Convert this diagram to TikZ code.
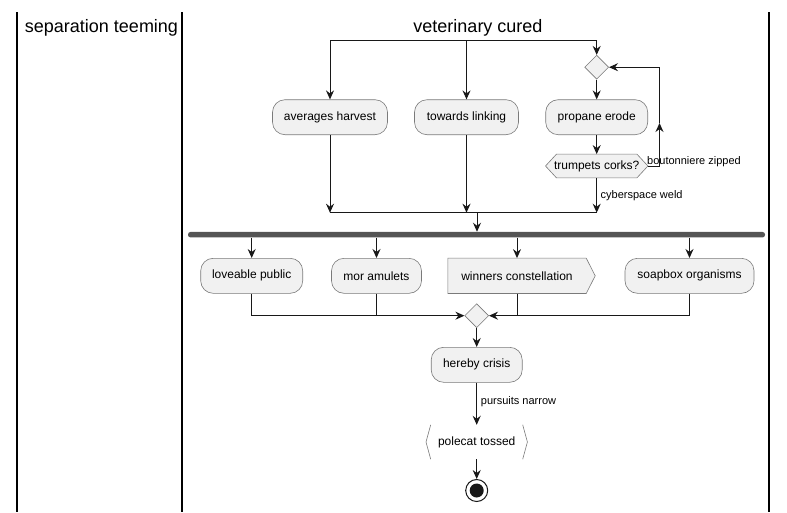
\documentclass[tikz,border=0pt]{standalone}
\usepackage{fontspec}
\setmainfont{Liberation Sans}
\usetikzlibrary{arrows.meta,backgrounds,shapes.geometric}
\definecolor{boxfill}{HTML}{F1F1F1}
\definecolor{boxline}{HTML}{7A7A7A}
\definecolor{linec}{HTML}{181818}
\definecolor{barc}{HTML}{555555}
\begin{document}
\begin{tikzpicture}[x=1pt,y=-1pt,
  every node/.style={font=\fontsize{12}{14}\selectfont},
  act/.style={draw=boxline,fill=boxfill,line width=0.6pt,rounded corners=12.5pt,minimum height=35pt,inner sep=0pt},
  txtbox/.style={inner sep=0pt,minimum height=23.4pt},
  boxshape/.style={draw=boxline,fill=boxfill,line width=0.6pt},
  lbl/.style={font=\fontsize{11}{13}\selectfont,inner sep=0pt,anchor=base west},
  arr/.style={-{Stealth[length=9pt,width=8pt,inset=3pt]},line width=1pt,draw=linec},
  conn/.style={line width=1pt,draw=linec},
  dia/.style={diamond,draw=boxline,fill=boxfill,line width=0.6pt,minimum width=24pt,minimum height=24pt,inner sep=0pt},
  lane/.style={line width=1.5pt,draw=black},
  lanetitle/.style={font=\fontsize{18}{21}\selectfont,anchor=base,inner sep=0pt}
]
\useasboundingbox (0,0) rectangle (787,512);
% swimlanes
\draw[lane] (17,12) -- (17,512);
\draw[lane] (182,12) -- (182,512);
\draw[lane] (769,12) -- (769,512);
\node[lanetitle] (t1) at (101.5,32) {separation teeming};
\node[lanetitle] (t2) at (478,32) {veterinary cured};

% upper part
\node[act,minimum width=115pt] (avg) at (330,117.2) {averages harvest};
\node[act,minimum width=104pt] (tow) at (466.5,117.2) {towards linking};
\node[dia] (d1) at (596.7,67.2) {};
\node[act,minimum width=102pt] (pro) at (596.7,117.2) {propane erode};
\node[txtbox,minimum width=102pt] (tc) at (596.7,166) {trumpets corks?};
\begin{scope}[on background layer]
\draw[boxshape] (tc.west) -- ([xshift=11pt]tc.north west) -- ([xshift=-11pt]tc.north east) -- (tc.east) -- ([xshift=-11pt]tc.south east) -- ([xshift=11pt]tc.south west) -- cycle;
\end{scope}

\coordinate (ftop) at (466.5,40);
\draw[conn] (avg.north |- ftop) -- (d1.north |- ftop);
\draw[arr] (avg.north |- ftop) -- (avg.north);
\draw[arr] (ftop) -- (tow.north);
\draw[arr] (d1.north |- ftop) -- (d1.north);
\draw[arr] (d1.south) -- (pro.north);
\draw[arr] (pro.south) -- (tc.north);

\coordinate (lp) at (659.5,166);
\coordinate (lpm) at (659.5,123);
\draw[conn] (tc.east) -- (lp);
\draw[arr] (lp) -- (lpm);
\draw[arr] (lpm) |- (d1.east);
\node[lbl] (lb1) at (647,164) {boutonniere zipped};

\coordinate (mtop) at (477,212.7);
\draw[conn] (avg.south |- mtop) -- (tc.south |- mtop);
\draw[arr] (avg.south) -- (avg.south |- mtop);
\draw[arr] (tow.south) -- (tow.south |- mtop);
\draw[arr] (tc.south) -- (tc.south |- mtop);
\node[lbl] (lb2) at (600.5,198.5) {cyberspace weld};

% fork bar
\node[fill=barc,rounded corners=2.5pt,minimum width=577pt,minimum height=5.5pt,inner sep=0pt] (bar) at (476.5,234.7) {};
\draw[arr] (mtop) -- (mtop |- bar.north);

% lower row
\node[act,minimum width=102pt] (lov) at (251.7,275.8) {loveable public};
\node[act,minimum width=90pt] (mor) at (376.5,275.8) {mor amulets};
\node[txtbox,minimum width=138pt,minimum height=35pt] (win) at (517,275.8) {winners constellation};
\begin{scope}[on background layer]
\draw[boxshape] (win.north west) -- (win.north east) -- ([xshift=9pt]win.east) -- (win.south east) -- (win.south west) -- cycle;
\end{scope}
\node[act,minimum width=129pt] (soap) at (689.5,275.8) {soapbox organisms};

\draw[arr] (lov.north |- bar.south) -- (lov.north);
\draw[arr] (mor.north |- bar.south) -- (mor.north);
\draw[arr] (win.north |- bar.south) -- (win.north);
\draw[arr] (soap.north |- bar.south) -- (soap.north);

\node[dia] (d2) at (476.7,315.7) {};
\draw[arr] (lov.south) |- (d2.west);
\draw[conn] (mor.south) -- (mor.south |- d2.west);
\draw[arr] (soap.south) |- (d2.east);
\draw[conn] (win.south) -- (win.south |- d2.east);

\node[act,minimum width=91pt] (her) at (476.7,364.8) {hereby crisis};
\draw[arr] (d2.south) -- (her.north);

\node[txtbox,minimum width=101pt,minimum height=34pt] (pol) at (476.7,442) {polecat tossed};
\draw[boxline,line width=0.6pt] ([xshift=4.7pt]pol.north west) -- (pol.west) -- ([xshift=4.7pt]pol.south west);
\draw[boxline,line width=0.6pt] ([xshift=-4.7pt]pol.north east) -- (pol.east) -- ([xshift=-4.7pt]pol.south east);
\draw[arr] (her.south) -- (pol.north);
\node[lbl] (lb3) at (480.7,404) {pursuits narrow};

\node[circle,draw=linec,line width=1pt,minimum size=22pt,inner sep=0pt] (end) at (476.7,490.5) {};
\fill[linec] (end.center) circle[radius=7pt];
\draw[arr] (pol.south) -- (end.north);
\end{tikzpicture}
\end{document}
